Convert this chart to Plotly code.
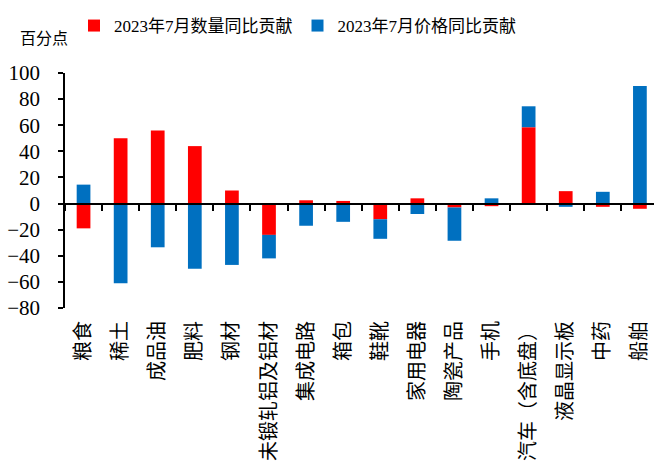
import plotly.graph_objects as go

categories = ["粮食", "稀土", "成品油", "肥料", "钢材", "未锻轧铝及铝材", "集成电路", "箱包",
              "鞋靴", "家用电器", "陶瓷产品", "手机", "汽车（含底盘）", "液晶显示板", "中药", "船舶"]
quantity_contrib = [-19, 50, 56, 44, 10, -24, 2.5, 2, -12, 4, -3, -2, 58.5, 9.5, -2.5, -4]
price_contrib = [14.5, -61, -33.5, -50, -47, -18, -17, -14, -15, -8, -25.5, 4, 16, -2.5, 9, 90]
y_ticks = [-80, -60, -40, -20, 0, 20, 40, 60, 80, 100]
series_names = ["2023年7月数量同比贡献", "2023年7月价格同比贡献"]

Y_MIN, Y_MAX = -80, 100
RED = "#FF0000"
BLUE = "#0070C0"
SERIF = "Times New Roman, Liberation Serif, Noto Sans CJK SC, serif"

fig = go.Figure()
fig.add_trace(go.Bar(x=categories, y=quantity_contrib, name=series_names[0],
                     marker=dict(color=RED, line=dict(width=0))))
fig.add_trace(go.Bar(x=categories, y=price_contrib, name=series_names[1],
                     marker=dict(color=BLUE, line=dict(width=0))))
# helper trace so the zero-line category axis has the same categories
fig.add_trace(go.Scatter(x=categories, y=[None] * len(categories), xaxis="x2",
                         showlegend=False, hoverinfo="skip", mode="markers"))

x_range = [-0.5, 15.38]
zero_pos = (0 - Y_MIN) / (Y_MAX - Y_MIN)

fig.update_layout(
    template="none",
    width=654, height=469,
    margin=dict(l=65, r=0, t=73, b=161, autoexpand=False),
    paper_bgcolor="white", plot_bgcolor="white",
    barmode="relative", bargap=0.63,
    font=dict(family=SERIF, color="black"),
    legend=dict(orientation="h", x=74 / 654, xref="container", xanchor="left",
                y=1 - 8 / 469, yref="container", yanchor="top",
                font=dict(family=SERIF, size=17, color="black"),
                itemwidth=30, tracegroupgap=0, bgcolor="rgba(0,0,0,0)"),
    xaxis=dict(type="category", range=x_range, showline=False, ticks="",
               showgrid=False, zeroline=False, tickangle=-90, automargin=False,
               tickfont=dict(family="Noto Sans CJK SC", size=20, color="black"),
               ticklabelstandoff=8),
    xaxis2=dict(type="category", range=x_range, overlaying="x", anchor="free",
                position=zero_pos, side="bottom", showline=True, linecolor="black",
                linewidth=2, ticks="outside", tickson="boundaries", ticklen=6,
                tickwidth=2, tickcolor="black", showticklabels=False,
                showgrid=False, zeroline=False, automargin=False),
    yaxis=dict(range=[Y_MIN, Y_MAX], tickvals=y_ticks, showgrid=False, zeroline=False,
               showline=True, linecolor="black", linewidth=1.5, ticks="outside",
               ticklen=5, tickwidth=1.5, tickcolor="black", automargin=False,
               tickfont=dict(family="Times New Roman, Liberation Serif, serif", size=21, color="black"),
               ticklabelstandoff=14),
    annotations=[dict(text="百分点", xref="paper", yref="paper", x=-0.08, y=1.155,
                      xanchor="left", yanchor="middle", showarrow=False,
                      font=dict(family="Noto Sans CJK SC", size=16, color="black"))],
    showlegend=True,
)

fig.write_html("out.html", config={"displayModeBar": False},
               post_script="document.body.style.margin='0';document.body.style.overflow='hidden';")
